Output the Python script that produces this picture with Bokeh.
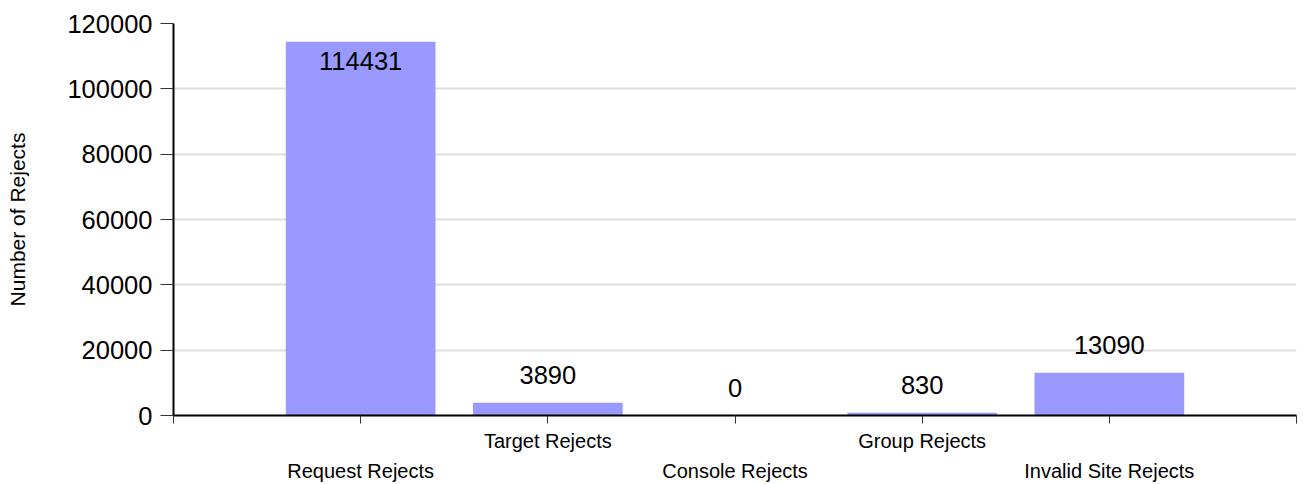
from bokeh.plotting import figure
from bokeh.models import (Range1d, FixedTicker, NumeralTickFormatter, LabelSet,
                          ColumnDataSource, Label, LinearAxis)
from bokeh.core.properties import value
from bokeh.embed import file_html
from bokeh.resources import INLINE

# ---- data ----
categories = ["Request Rejects", "Target Rejects", "Console Rejects",
              "Group Rejects", "Invalid Site Rejects"]
rejects = [114431, 3890, 0, 830, 13090]
y_ticks = [0, 20000, 40000, 60000, 80000, 100000, 120000]
y_max = 120000
page_number = "2"

FONT = "Liberation Sans"
x_pos = list(range(1, len(categories) + 1))

p = figure(width=1303, height=484, output_backend="svg", toolbar_location=None,
           x_range=Range1d(0, len(categories) + 1), y_range=Range1d(0, y_max),
           min_border_left=173, min_border_right=7, min_border_top=23,
           min_border_bottom=69)
p.outline_line_color = None
p.background_fill_color = "white"
p.border_fill_color = "white"

# value label offsets (px): above the bar, or inside when the bar reaches the top
val_off = [-19 if v > 0.9 * y_max else 28 for v in rejects]

src = ColumnDataSource(dict(x=x_pos, top=rejects,
                            label=[str(v) for v in rejects], voff=val_off))

p.vbar(x="x", top="top", width=0.8, source=src,
       fill_color="#9999ff", line_color=None)

p.add_layout(LabelSet(x="x", y="top", text="label", source=src,
                      y_offset="voff", text_align="center",
                      text_baseline="middle", text_font=value(FONT),
                      text_font_size="25.5px", text_color="black"))

# y axis
p.yaxis.ticker = FixedTicker(ticks=y_ticks)
p.yaxis.formatter = NumeralTickFormatter(format="0")
p.yaxis.major_label_text_font = FONT
p.yaxis.major_label_text_font_size = "25.5px"
p.yaxis.major_label_text_color = "black"
p.yaxis.major_tick_out = 13
p.yaxis.major_tick_in = 0
p.yaxis.minor_tick_line_color = None
p.yaxis.major_tick_line_color = "#333333"
p.yaxis.major_tick_line_width = 1
p.yaxis.axis_line_color = "black"
p.yaxis.axis_line_width = 2
p.yaxis.major_label_standoff = 8
p.yaxis.axis_label = "Number of Rejects"
p.yaxis.axis_label_text_font = FONT
p.yaxis.axis_label_text_font_size = "21px"
p.yaxis.axis_label_text_font_style = "normal"
p.yaxis.axis_label_text_color = "black"
p.yaxis.axis_label_standoff = 35

# x axis: tick marks at slot edges and centres, upper row of category labels
upper = {x: c for i, (x, c) in enumerate(zip(x_pos, categories)) if i % 2 == 1}
lower = {x: c for i, (x, c) in enumerate(zip(x_pos, categories)) if i % 2 == 0}
all_ticks = list(range(0, len(categories) + 2))

xa = p.xaxis[0]
xa.ticker = FixedTicker(ticks=all_ticks)
xa.major_label_overrides = {t: upper.get(t, "") for t in all_ticks}
xa.major_label_text_font = FONT
xa.major_label_text_font_size = "20px"
xa.major_label_text_color = "black"
xa.major_label_standoff = 6
xa.major_tick_out = 8
xa.major_tick_in = 0
xa.minor_tick_line_color = None
xa.major_tick_line_color = "#333333"
xa.axis_line_color = "black"
xa.axis_line_width = 2

# second row of category labels
xb = LinearAxis(ticker=FixedTicker(ticks=list(lower.keys())),
                major_label_overrides=lower)
xb.major_label_text_font = FONT
xb.major_label_text_font_size = "20px"
xb.major_label_text_color = "black"
xb.major_label_standoff = 5
xb.major_tick_out = 0
xb.major_tick_in = 0
xb.major_tick_line_color = None
xb.minor_tick_line_color = None
xb.axis_line_color = None
p.add_layout(xb, "below")

p.xgrid.visible = False
p.ygrid.grid_line_color = "#dddddd"
p.ygrid.grid_line_width = 2

p.add_layout(Label(x=1055, y=-71, x_units="screen", y_units="screen",
                   text=page_number, text_font=FONT, text_font_size="20px",
                   text_align="center", text_baseline="alphabetic",
                   level="overlay"))

open("out.html", "w").write(file_html(p, INLINE))
